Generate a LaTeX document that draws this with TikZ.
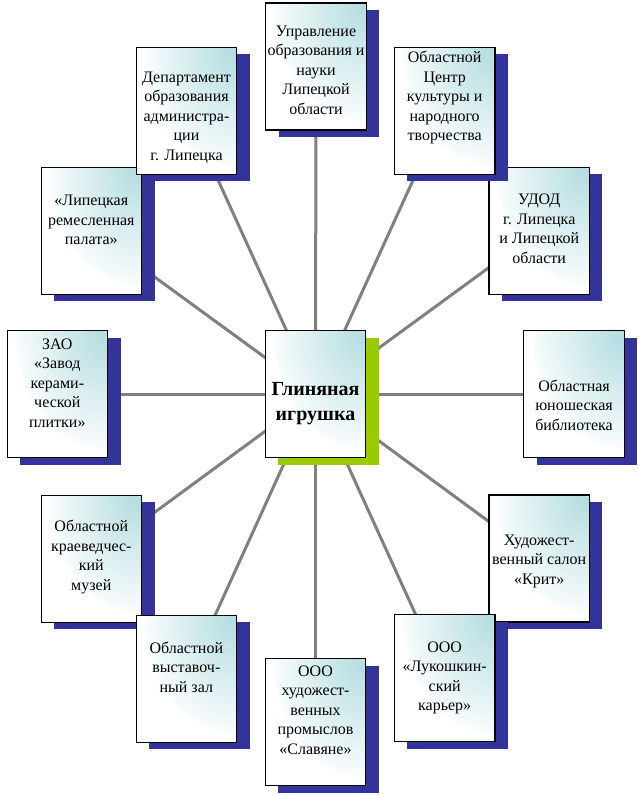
\documentclass[tikz,border=0pt]{standalone}
\usepackage{fontspec}
\setmainfont{Liberation Serif}
\usetikzlibrary{shadows,backgrounds}
\definecolor{boxteal}{RGB}{180,221,224}
\definecolor{shblue}{RGB}{51,51,153}
\definecolor{shgreen}{RGB}{153,204,0}
\definecolor{linkgray}{RGB}{128,128,128}
\tikzset{
  orgbox/.style={draw=black, fill=white, line width=1.1pt, rectangle, minimum width=100.5pt, minimum height=127pt, inner sep=0pt,
    path picture={\shade[inner color=boxteal, outer color=white] (path picture bounding box.north east) ellipse [x radius=92pt, y radius=118pt];},
    general shadow={fill=shblue, shadow xshift=13pt, shadow yshift=-7pt}},
  hubbox/.style={orgbox, general shadow={fill=shgreen, shadow xshift=13pt, shadow yshift=-7pt}},
  boxtext/.style={align=center, inner sep=0pt, font=\fontsize{16}{19.5}\selectfont},
  hubtext/.style={align=center, inner sep=0pt, font=\fontsize{20}{25}\selectfont\bfseries},
  link/.style={draw=linkgray, line width=3pt}
}
\begin{document}
\begin{tikzpicture}[x=1pt,y=1pt]
\useasboundingbox (0,0) rectangle (639,-795);
% boxes
\node[orgbox] (b1) at (316,-66.5) {};
\node[boxtext] (t1) at (316,-70) {Управление\\образования и\\науки\\Липецкой\\области};
\node[orgbox] (b4) at (91.3,-230.8) {};
\node[boxtext] (t4) at (91.3,-220) {«Липецкая\\ремесленная\\палата»};
\node[orgbox] (b2) at (186.5,-110.7) {};
\node[boxtext] (t2) at (186.5,-117.8) {Департамент\\образования\\администра-\\ции\\г. Липецка};
\node[orgbox] (b5) at (539.2,-230.8) {};
\node[boxtext] (t5) at (539.2,-229) {УДОД\\г. Липецка\\и Липецкой\\области};
\node[orgbox] (b3) at (444.7,-110.7) {};
\node[boxtext] (t3) at (444.7,-97.8) {Областной\\Центр\\культуры и\\народного\\творчества};
\node[orgbox] (b6) at (57.3,-394.3) {};
\node[boxtext] (t6) at (57.3,-383) {ЗАО\\«Завод\\керами-\\ческой\\плитки»};
\node[hubbox] (c) at (315.5,-394.3) {};
\node[hubtext] (tc) at (315.5,-404) {Глиняная\\игрушка};
\node[orgbox] (b8) at (574,-394.3) {};
\node[boxtext] (t8) at (574,-405) {Областная\\юношеская\\библиотека};
\node[orgbox] (b9) at (91.3,-558.8) {};
\node[boxtext] (t9) at (91.3,-557) {Областной\\краеведчес-\\кий\\музей};
\node[orgbox] (b10) at (539.2,-558.5) {};
\node[boxtext] (t10) at (539.2,-561) {Художест-\\венный салон\\«Крит»};
\node[orgbox] (b11) at (186.3,-678.6) {};
\node[boxtext] (t11) at (186.3,-667) {Областной\\выставоч-\\ный зал};
\node[orgbox] (b12) at (444.7,-678.4) {};
\node[boxtext] (t12) at (444.7,-678) {ООО\\«Лукошкин-\\ский\\карьер»};
\node[orgbox] (b13) at (315.5,-722.3) {};
\node[boxtext] (t13) at (315.5,-710) {ООО\\художест-\\венных\\промыслов\\«Славяне»};
% connectors
\begin{pgfonlayer}{background}
\foreach \b in {b1,b2,b3,b4,b5,b6,b8,b9,b10,b11,b12,b13}
  \draw[link] (c.center) -- (\b.center);
\end{pgfonlayer}
\end{tikzpicture}
\end{document}
